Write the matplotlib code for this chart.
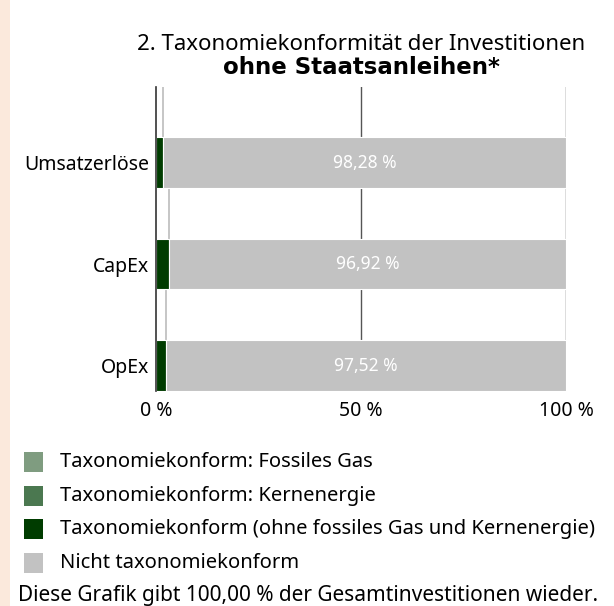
import matplotlib
matplotlib.use("Agg")
import matplotlib.pyplot as plt
from matplotlib.patches import Rectangle

# Daten
kategorien = ["Umsatzerlöse", "CapEx", "OpEx"]
fossiles_gas = [0.0, 0.0, 0.0]
kernenergie = [0.0, 0.0, 0.0]
konform = [1.72, 3.08, 2.48]
nicht_konform = [98.28, 96.92, 97.52]
x_ticks = [0, 50, 100]
x_labels = ["0 %", "50 %", "100 %"]

farben = {
    "gas": "#7f9c80",
    "kern": "#4b7850",
    "konform": "#003c00",
    "nicht": "#c2c2c2",
}
legende = [
    ("Taxonomiekonform: Fossiles Gas", farben["gas"]),
    ("Taxonomiekonform: Kernenergie", farben["kern"]),
    ("Taxonomiekonform (ohne fossiles Gas und Kernenergie)", farben["konform"]),
    ("Nicht taxonomiekonform", farben["nicht"]),
]

plt.rcParams["font.family"] = ["Noto Sans", "DejaVu Sans"]
FS = 14

W, H = 614, 606
fig = plt.figure(figsize=(W / 100, H / 100), dpi=100)

# Hintergrundstreifen links
fig.patches.append(Rectangle((0, 0), 10 / W, 1, transform=fig.transFigure,
                             facecolor="#fbe9dc", edgecolor="none", zorder=0))

ax = fig.add_axes([156 / W, (H - 391) / H, 410 / W, 304 / H])

n = len(kategorien)
pos = list(range(n - 1, -1, -1))  # oben nach unten
hoehe = 0.5

links = [0.0] * n
for werte, key in [(fossiles_gas, "gas"), (kernenergie, "kern"),
                   (konform, "konform"), (nicht_konform, "nicht")]:
    ax.barh(pos, werte, left=links, height=hoehe, color=farben[key],
            edgecolor="white", linewidth=0.8, zorder=2)
    links = [l + w for l, w in zip(links, werte)]

# Werte im grauen Balken
for i in range(n):
    start = fossiles_gas[i] + kernenergie[i] + konform[i]
    ax.text(start + nicht_konform[i] / 2, pos[i],
            f"{nicht_konform[i]:.2f} %".replace(".", ","),
            ha="center", va="center", color="white", fontsize=12.5, zorder=3)

ylim_top = 2.745
# Verbindungslinien an den Grenzen
for i in range(n):
    grenze = fossiles_gas[i] + kernenergie[i] + konform[i]
    oben = ylim_top if i == 0 else pos[i - 1] - hoehe / 2
    ax.vlines(grenze, pos[i] + hoehe / 2, oben, color="#c2c2c2", lw=1.3, zorder=1)

ax.set_xlim(0, 100)
ax.set_ylim(-0.25, ylim_top)
ax.set_yticks(pos)
ax.set_yticklabels(kategorien, fontsize=FS)
ax.set_xticks(x_ticks)
ax.set_xticklabels(x_labels, fontsize=FS)
ax.tick_params(length=0, pad=5)
ax.tick_params(axis="x", pad=7)
for s in ["top", "right", "bottom"]:
    ax.spines[s].set_visible(False)
ax.spines["left"].set_color("#333333")
ax.spines["left"].set_linewidth(1.2)
ax.spines["left"].set_zorder(4)
for x in x_ticks[1:]:
    ax.axvline(x, color="#555555", lw=1, zorder=0)

# Titel
fig.text(361 / W, 1 - 44 / H, "2. Taxonomiekonformität der Investitionen",
         ha="center", va="center", fontsize=16)
fig.text(361 / W, 1 - 68 / H, "ohne Staatsanleihen*", ha="center", va="center",
         fontsize=16.5, fontweight="bold", family=["DejaVu Sans"])

# Legende
for k, (text, farbe) in enumerate(legende):
    y = 462 + k * 33.5
    fig.patches.append(Rectangle((24 / W, 1 - (y + 10) / H), 19 / W, 20 / H,
                                 transform=fig.transFigure, facecolor=farbe,
                                 edgecolor="none"))
    fig.text(60 / W, 1 - y / H, text, ha="left", va="center", fontsize=14.5)

fig.text(308 / W, 1 - 596 / H,
         "Diese Grafik gibt 100,00 % der Gesamtinvestitionen wieder.",
         ha="center", va="center", fontsize=15)

fig.savefig("out.png", dpi=100)
